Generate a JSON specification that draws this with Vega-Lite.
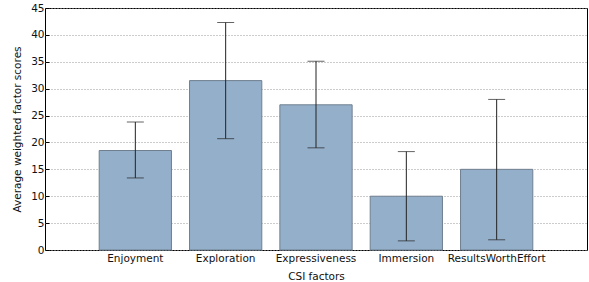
{
  "$schema": "https://vega.github.io/schema/vega-lite/v6.json",
  "width": 542,
  "height": 242,
  "autosize": {"type": "none"},
  "padding": {"left": 45, "top": 8, "right": 2, "bottom": 32},
  "background": "white",
  "config": {
    "font": "DejaVu Sans",
    "view": {"stroke": "#000000", "strokeWidth": 1},
    "axis": {"labelFont": "DejaVu Sans", "titleFont": "DejaVu Sans", "labelFontSize": 10.5, "titleFontSize": 10.5, "titleFontWeight": "normal", "labelColor": "#111", "titleColor": "#111", "domain": false, "tickColor": "#000", "tickSize": -4},
    "axisY": {"values": [0,5,10,15,20,25,30,35,40,45], "grid": true, "gridDash": [1, 2], "gridColor": "#999", "titlePadding": 8, "labelPadding": 5},
    "axisX": {"grid": false, "labelAngle": 0, "labelPadding": 7, "titlePadding": 8}
  },
  "data": {
    "values": [
      {"factor": "Enjoyment", "mean": 18.5, "lo": 13.4, "hi": 23.8},
      {"factor": "Exploration", "mean": 31.5, "lo": 20.7, "hi": 42.3},
      {"factor": "Expressiveness", "mean": 27.0, "lo": 19.0, "hi": 35.1},
      {"factor": "Immersion", "mean": 10.0, "lo": 1.7, "hi": 18.3},
      {"factor": "ResultsWorthEffort", "mean": 15.0, "lo": 1.9, "hi": 28.0}
    ]
  },
  "encoding": {
    "x": {
      "field": "factor", "type": "nominal", "sort": null,
      "scale": {"paddingInner": 0.2, "paddingOuter": 0.6},
      "axis": {"title": "CSI factors"}
    }
  },
  "layer": [
    {
      "mark": {"type": "bar", "fill": "#94afca", "stroke": "#6f7f8f", "strokeWidth": 1},
      "encoding": {
        "y": {
          "field": "mean", "type": "quantitative",
          "scale": {"domain": [0, 45], "nice": false},
          "axis": {"title": "Average weighted factor scores"}
        }
      }
    },
    {
      "mark": {"type": "rule", "color": "#222", "strokeWidth": 1},
      "encoding": {"y": {"field": "lo", "type": "quantitative"}, "y2": {"field": "hi"}}
    },
    {
      "mark": {"type": "tick", "color": "#222", "size": 17, "thickness": 1},
      "encoding": {"y": {"field": "lo", "type": "quantitative"}}
    },
    {
      "mark": {"type": "tick", "color": "#222", "size": 17, "thickness": 1},
      "encoding": {"y": {"field": "hi", "type": "quantitative"}}
    }
  ]
}
